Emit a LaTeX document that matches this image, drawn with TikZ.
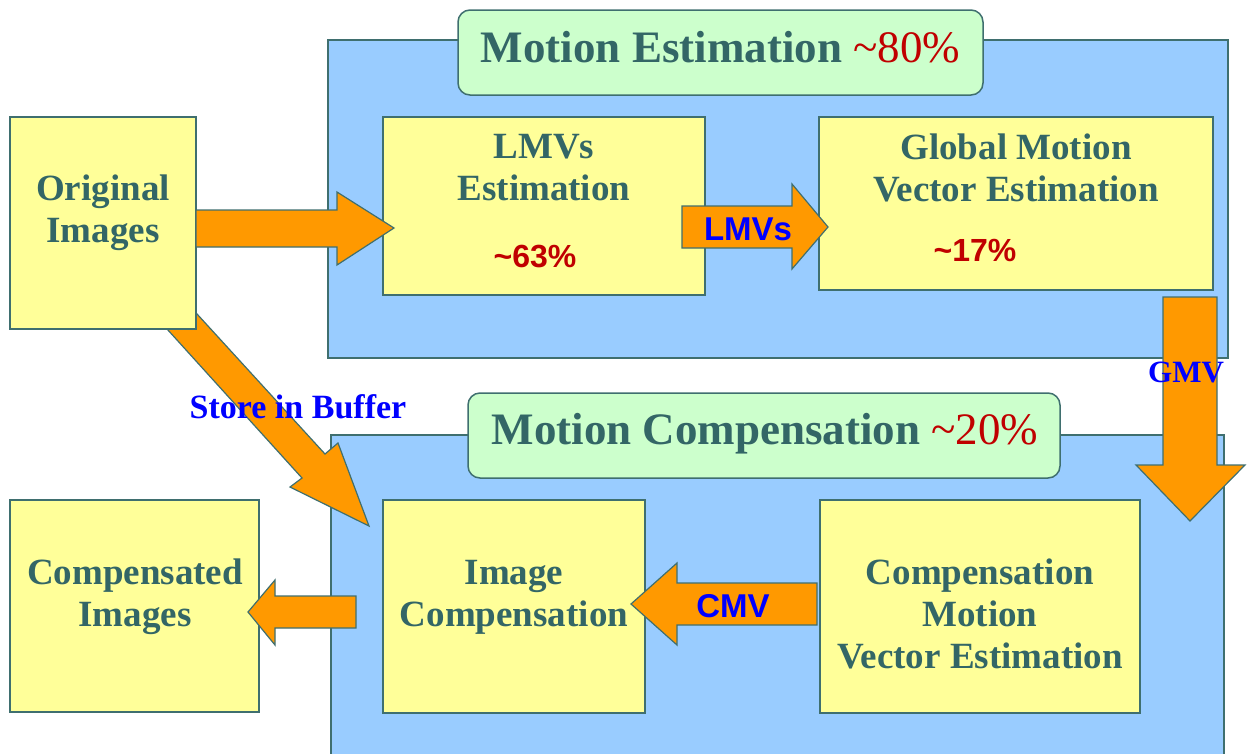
\documentclass[tikz,border=0pt]{standalone}
\usepackage{fontspec}
\setmainfont{Liberation Serif}
\setsansfont{Liberation Sans}
\definecolor{edge}{HTML}{3F6F6F}
\definecolor{tealtxt}{HTML}{336666}
\definecolor{bluebg}{HTML}{99CCFF}
\definecolor{greenbg}{HTML}{CCFFCC}
\definecolor{yellowbg}{HTML}{FFFF99}
\definecolor{orangear}{HTML}{FF9900}
\definecolor{redtxt}{HTML}{C00000}
\begin{document}
\begin{tikzpicture}[x=1pt,y=-1pt,
  blueframe/.style={draw=edge, fill=bluebg, line width=1.5pt, inner sep=0pt, rectangle},
  titlebox/.style={draw=edge, fill=greenbg, line width=1.5pt, inner sep=0pt, rounded corners=12pt},
  ybox/.style={draw=edge, fill=yellowbg, line width=1.5pt, inner sep=0pt},
  blockarrow/.style={draw=edge, fill=orangear, line width=1.2pt, line join=miter},
  boxtext/.style={text=tealtxt, font=\fontsize{37}{42}\selectfont\bfseries, align=center, inner sep=0pt},
  titletext/.style={text=tealtxt, font=\fontsize{45}{50}\selectfont\bfseries, inner sep=0pt, anchor=base},
  pct/.style={text=redtxt, font=\sffamily\bfseries\fontsize{32}{36}\selectfont, inner sep=0pt},
  bluelbl/.style={text=blue, font=\sffamily\bfseries\fontsize{33}{38}\selectfont, inner sep=0pt},
  bluesrf/.style={text=blue, font=\bfseries\fontsize{31}{36}\selectfont, inner sep=0pt}
]
\useasboundingbox (0,0) rectangle (1247,753);
\fill[white] (0,0) rectangle (1247,753);

% background frames
\node[blueframe, minimum width=900pt, minimum height=318pt] (me) at (778,199) {};
\node[blueframe, minimum width=893pt, minimum height=321pt] (mc) at (777.5,595.5) {};
\node[titlebox, minimum width=525pt, minimum height=85pt] (metitle) at (720.5,52.5) {};
\node[titlebox, minimum width=592pt, minimum height=85pt] (mctitle) at (764,435.5) {};
\node[titletext] (metxt) at (720.5,62) {Motion Estimation \textcolor{redtxt}{\mdseries\textasciitilde80\%}};
\node[titletext] (mctxt) at (765,444) {Motion Compensation \textcolor{redtxt}{\mdseries\textasciitilde20\%}};

% diagonal arrow (store in buffer), partly under the Original Images box
\draw[blockarrow] (148,308) -- (302,478) -- (290,487) -- (369,526) -- (338,443) -- (325,454) -- (176,291) -- cycle;

% boxes
\node[ybox, minimum width=186pt, minimum height=212pt] (orig) at (103,223) {};
\node[ybox, minimum width=322pt, minimum height=178pt] (lmve) at (544,206) {};
\node[ybox, minimum width=394pt, minimum height=173pt] (gmve) at (1016,203.5) {};
\node[ybox, minimum width=249pt, minimum height=212pt] (comp) at (134.5,606) {};
\node[ybox, minimum width=262pt, minimum height=213pt] (imgc) at (514,606.5) {};
\node[ybox, minimum width=320pt, minimum height=213pt] (cmve) at (980,606.5) {};

% box texts
\node[boxtext] (origtxt) at (103,213) {Original\\Images};
\node[boxtext] (lmvetxt) at (544,168) {LMVs\\Estimation};
\node[pct] (p63) at (535,257) {\textasciitilde63\%};
\node[boxtext] (gmvetxt) at (1016,168) {Global Motion\\Vector Estimation};
\node[pct] (p17) at (975,250) {\textasciitilde17\%};
\node[boxtext] (comptxt) at (135,597) {Compensated\\Images};
\node[boxtext] (imgctxt) at (514,597) {Image\\Compensation};
\node[boxtext] (cmvetxt) at (980,614) {Compensation\\Motion\\Vector Estimation};

% block arrows
\draw[blockarrow] (196,210) -- (337,210) -- (337,192) -- (394,228) -- (337,265) -- (337,247) -- (196,247) -- cycle;
\draw[blockarrow] (682,206) -- (792,206) -- (792,184) -- (828,227) -- (792,269) -- (792,248) -- (682,248) -- cycle;
\draw[blockarrow] (1163,297) -- (1217,297) -- (1217,465) -- (1245,465) -- (1190,521) -- (1136,465) -- (1163,465) -- cycle;
\draw[blockarrow] (817,583) -- (677,583) -- (677,563) -- (631,604) -- (677,645) -- (677,625) -- (817,625) -- cycle;
\draw[blockarrow] (356,596) -- (275,596) -- (275,580) -- (248,612) -- (275,645) -- (275,628) -- (356,628) -- cycle;

% arrow labels
\node[bluelbl] (lmvs) at (748,229) {LMVs};
\node[bluelbl] (cmv) at (733,606) {CMV};
\node[bluesrf] (gmv) at (1186,372) {GMV};
\node[bluesrf, font=\bfseries\fontsize{34}{38}\selectfont] (store) at (298,407) {Store in Buffer};
\end{tikzpicture}
\end{document}
